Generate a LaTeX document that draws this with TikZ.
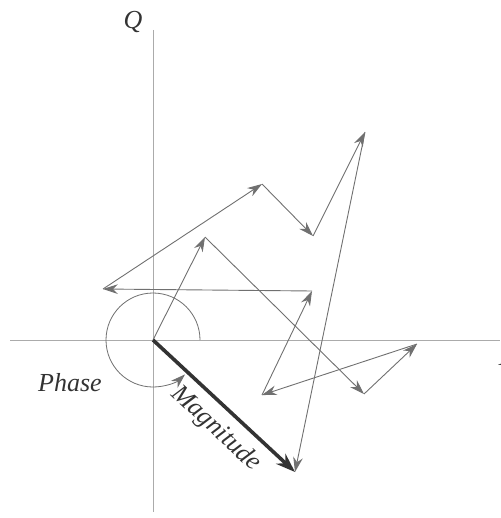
\documentclass[tikz,border=0pt]{standalone}
\usepackage{fontspec}
\setmainfont{Liberation Serif}
\usetikzlibrary{arrows.meta}
\definecolor{inkgray}{HTML}{707070}
\definecolor{axisgray}{HTML}{ABABAB}
\definecolor{magdark}{HTML}{333333}
\tikzset{
  lbl/.style={font=\itshape\fontsize{13}{15}\selectfont, text=black!80},
  walk/.style={-{Stealth[length=2.6mm, width=1.7mm]}, line width=0.45pt, color=inkgray},
  axisline/.style={line width=0.5pt, color=axisgray},
}

\begin{document}
\begin{tikzpicture}[x=0.5pt, y=-0.5pt,
  magline/.style={-{Stealth[length=3.4mm, width=2.4mm]}, line width=1.8pt, color=magdark}]
  \useasboundingbox (0,0) rectangle (500,518);
  % axes
  \draw[axisline] (10,340) -- (500,340);
  \draw[axisline] (153,30) -- (153,512);
  \node[lbl] (qlab) at (133,22) {Q};
  \node[lbl] (ilab) at (503,357) {I};
  % tips of the summed vectors
  \foreach \i/\p in {0/{153,340}, 1/{205,237}, 2/{364,394}, 3/{417,344}, 4/{262,395}, 5/{312,291},
                     6/{103,289}, 7/{262,184}, 8/{313,236}, 9/{365,132}, 10/{295,472}} {
    \coordinate (p\i) at (\p);
  }
  \foreach \i [evaluate=\i as \j using int(\i+1)] in {0,...,9} \draw[walk] (p\i) -- (p\j);
  % phase angle
  \draw[walk, line width=0.4pt] (200,340) arc[start angle=0, end angle=-313, radius=47];
  \node[lbl] (phase) at (70,383) {Phase};
  % resultant
  \draw[magline] (p0) -- node[lbl, sloped, below, pos=0.55, yshift=-1pt] (mag) {Magnitude} (p10);
\end{tikzpicture}
\end{document}
